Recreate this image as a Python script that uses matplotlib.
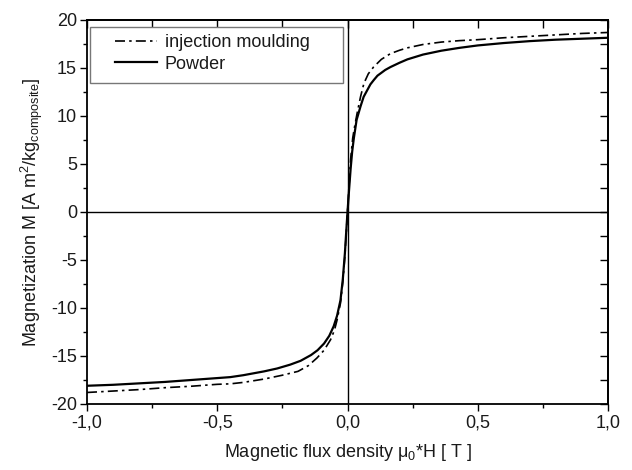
import matplotlib
matplotlib.use("Agg")
import matplotlib.pyplot as plt
from matplotlib.ticker import FixedLocator, FixedFormatter, MultipleLocator
from matplotlib.patches import Rectangle

plt.rcParams['font.family'] = ['Liberation Sans', 'DejaVu Sans']
plt.rcParams['mathtext.fontset'] = 'custom'
plt.rcParams['mathtext.rm'] = 'Liberation Sans'
plt.rcParams['mathtext.it'] = 'Liberation Sans:italic'
plt.rcParams['mathtext.bf'] = 'Liberation Sans:bold'

# Powder (solid)
powder_H = [-1.0, -0.9, -0.8, -0.7, -0.6, -0.5, -0.45, -0.4, -0.32, -0.27, -0.22, -0.18,
            -0.14, -0.115, -0.09, -0.07, -0.053, -0.04, -0.027, -0.018, -0.01, -0.005, 0.0,
            0.006, 0.012, 0.018, 0.0244, 0.035, 0.05, 0.062, 0.076, 0.088, 0.101, 0.115,
            0.13, 0.145, 0.165, 0.2, 0.23, 0.29, 0.36, 0.43, 0.5, 0.6, 0.7, 0.8, 0.9, 1.0]
powder_M = [-18.1, -18.0, -17.85, -17.7, -17.5, -17.3, -17.2, -17.0, -16.6, -16.3, -15.9, -15.5,
            -14.9, -14.4, -13.7, -12.9, -11.9, -10.8, -9.2, -7.0, -4.3, -2.1, 0.0,
            2.3, 4.5, 6.3, 7.7, 9.6, 11.0, 12.0, 12.7, 13.3, 13.75, 14.2,
            14.5, 14.8, 15.1, 15.55, 15.9, 16.4, 16.8, 17.1, 17.35, 17.6, 17.8, 17.95, 18.05, 18.15]

# Injection moulding (dash-dot)
inj_H = [-1.0, -0.9, -0.8, -0.7, -0.6, -0.5, -0.45, -0.4, -0.32, -0.25, -0.19, -0.15,
         -0.117, -0.09, -0.065, -0.05, -0.04, -0.027, -0.018, -0.01, -0.005, 0.0,
         0.006, 0.012, 0.02, 0.028, 0.037, 0.05, 0.063, 0.08, 0.1, 0.13, 0.165, 0.2,
         0.23, 0.29, 0.36, 0.43, 0.5, 0.6, 0.7, 0.8, 0.9, 1.0]
inj_M = [-18.8, -18.65, -18.5, -18.3, -18.15, -17.95, -17.9, -17.75, -17.4, -17.0, -16.6, -16.0,
         -15.2, -14.4, -13.3, -12.3, -11.25, -9.5, -7.3, -4.6, -2.3, 0.0,
         2.8, 5.5, 7.7, 9.0, 10.3, 12.0, 13.4, 14.4, 15.1, 15.9, 16.5, 16.85,
         17.1, 17.45, 17.7, 17.85, 17.95, 18.15, 18.3, 18.45, 18.6, 18.7]

series_labels = ['injection moulding', 'Powder']
x_ticks = [-1.0, -0.5, 0.0, 0.5, 1.0]
x_labels = ["-1,0", "-0,5", "0,0", "0,5", "1,0"]
y_ticks = [-20, -15, -10, -5, 0, 5, 10, 15, 20]
y_labels = ["-20", "-15", "-10", "-5", "0", "5", "10", "15", "20"]

FS = 13
TXT = '#1a1a1a'

fig = plt.figure(figsize=(6.32, 4.70), dpi=100)
ax = fig.add_axes([87/632, 66/470, 521/632, 384/470])

ax.axhline(0, color='black', lw=1.0, zorder=1)
ax.axvline(0, color='black', lw=1.0, zorder=1)

ax.plot(inj_H, inj_M, color='black', lw=1.2, linestyle=(0, (6, 2.5, 1.5, 2.5)),
        label=series_labels[0], zorder=3)
ax.plot(powder_H, powder_M, color='black', lw=1.6, linestyle='-',
        label=series_labels[1], zorder=3)

ax.set_xlim(-1.0, 1.0)
ax.set_ylim(-20, 20)
ax.xaxis.set_major_locator(FixedLocator(x_ticks))
ax.xaxis.set_major_formatter(FixedFormatter(x_labels))
ax.yaxis.set_major_locator(FixedLocator(y_ticks))
ax.yaxis.set_major_formatter(FixedFormatter(y_labels))
ax.xaxis.set_minor_locator(MultipleLocator(0.25))
ax.yaxis.set_minor_locator(MultipleLocator(2.5))

for s in ax.spines.values():
    s.set_linewidth(1.3)
    s.set_color('black')

ax.tick_params(which='both', direction='out', top=False, right=False, width=1.0,
               labelsize=FS, colors='black', labelcolor=TXT, pad=2)
ax.tick_params(which='major', length=5.2)
ax.tick_params(which='minor', length=3.0)

# inward ticks on top and right
axt = ax.secondary_xaxis('top')
axt.xaxis.set_major_locator(FixedLocator(x_ticks))
axt.xaxis.set_minor_locator(MultipleLocator(0.25))
axt.tick_params(which='both', direction='in', labeltop=False, width=1.0, length=5.5)
axt.spines['top'].set_linewidth(1.3)
axr = ax.secondary_yaxis('right')
axr.yaxis.set_major_locator(FixedLocator(y_ticks))
axr.yaxis.set_minor_locator(MultipleLocator(2.5))
axr.tick_params(which='both', direction='in', labelright=False, width=1.0, length=5.5)
axr.spines['right'].set_linewidth(1.3)

ax.set_xlabel(r"Magnetic flux density μ$_0$*H [ T ]", fontsize=FS, color=TXT, labelpad=8)
ax.set_ylabel(r"Magnetization M [A m$^2$/kg$_{\mathrm{composite}}$]", fontsize=FS,
              color=TXT, labelpad=4)

# legend frame drawn as a rectangle, legend entries without frame
frame = Rectangle((3/521, (404-83)/384), 253/521, 56/384, transform=ax.transAxes,
                  facecolor='white', edgecolor='#777777', lw=1.0, zorder=4)
ax.add_patch(frame)
leg = ax.legend(loc='upper left', bbox_to_anchor=((115-87)/521, (404-34)/384),
                borderaxespad=0, borderpad=0, fontsize=FS, handlelength=2.35,
                frameon=False, labelspacing=0.25, handletextpad=0.4)
leg.set_zorder(5)
for t in leg.get_texts():
    t.set_color(TXT)

fig.savefig("out.png", dpi=100)
